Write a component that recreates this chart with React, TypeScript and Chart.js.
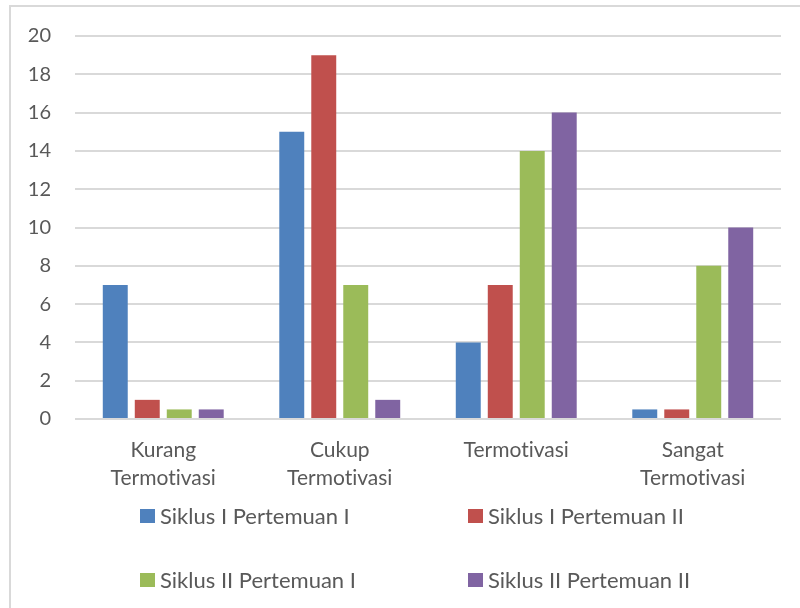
import React, { useEffect, useRef } from "react";
import { Chart, registerables } from "chart.js";

Chart.register(...registerables);

const categories: string[][] = [
  ["Kurang", "Termotivasi"],
  ["Cukup", "Termotivasi"],
  ["Termotivasi"],
  ["Sangat", "Termotivasi"],
];
const seriesNames = [
  "Siklus I Pertemuan I",
  "Siklus I Pertemuan II",
  "Siklus II Pertemuan I",
  "Siklus II Pertemuan II",
];
const siklus1Pertemuan1 = [7, 15, 4, 0.5];
const siklus1Pertemuan2 = [1, 19, 7, 0.5];
const siklus2Pertemuan1 = [0.5, 7, 14, 8];
const siklus2Pertemuan2 = [0.5, 1, 16, 10];
const seriesColors = ["#4F81BD", "#C0504D", "#9BBB59", "#8064A2"];
const yMin = 0;
const yMax = 20;
const yStep = 2;

const FONT = "Lato";
const TEXT_COLOR = "#595959";
const GRID_COLOR = "#d9d9d9";

const frameAndLegend = {
  id: "frameAndLegend",
  beforeDraw(chart: any) {
    const ctx = chart.ctx;
    try {
      ctx.textRendering = "optimizeSpeed";
    } catch (e) {}
  },
  afterDraw(chart: any) {
    const ctx = chart.ctx;
    ctx.save();
    try {
      ctx.textRendering = "optimizeSpeed";
    } catch (e) {}
    // outer frame (top and left edges visible)
    ctx.strokeStyle = GRID_COLOR;
    ctx.lineWidth = 2;
    ctx.strokeRect(10, 6, 820, 640);
    // legend
    const cols = [140, 468];
    const rows = [516, 580];
    ctx.font = `22px ${FONT}`;
    ctx.textBaseline = "middle";
    ctx.textAlign = "left";
    chart.data.datasets.forEach((ds: any, i: number) => {
      const x = cols[i % 2];
      const y = rows[Math.floor(i / 2)];
      ctx.fillStyle = ds.backgroundColor;
      ctx.fillRect(x, y - 7, 15, 14);
      ctx.fillStyle = TEXT_COLOR;
      ctx.fillText(ds.label, x + 20, y + 1);
    });
    ctx.restore();
  },
};

export default function App() {
  const canvasRef = useRef<HTMLCanvasElement | null>(null);

  useEffect(() => {
    let chart: Chart | null = null;
    let cancelled = false;
    const make = () => {
      if (cancelled || !canvasRef.current) return;
      const values = [siklus1Pertemuan1, siklus1Pertemuan2, siklus2Pertemuan1, siklus2Pertemuan2];
      chart = new Chart(canvasRef.current, {
        type: "bar",
        data: {
          labels: categories as any,
          datasets: values.map((v, i) => ({
            label: seriesNames[i],
            data: v,
            backgroundColor: seriesColors[i],
            borderWidth: 0,
            categoryPercentage: 0.725,
            barPercentage: 0.78,
          })),
        },
        options: {
          responsive: false,
          animation: false,
          devicePixelRatio: 1,
          layout: { padding: { left: 0, right: 19, top: 35, bottom: 0 } },
          plugins: {
            legend: { display: false },
            tooltip: { enabled: false },
            title: { display: false },
          },
          scales: {
            x: {
              grid: { display: false, drawTicks: false },
              border: { display: false },
              ticks: {
                padding: 18,
                color: TEXT_COLOR,
                font: { family: FONT, size: 21, lineHeight: 1.3 },
                maxRotation: 0,
                autoSkip: false,
              },
              afterFit: (s: any) => {
                s.height = 189;
              },
            },
            y: {
              min: yMin,
              max: yMax,
              grid: { color: GRID_COLOR, lineWidth: 2, drawTicks: false },
              border: { display: false },
              ticks: {
                stepSize: yStep,
                padding: 24,
                color: TEXT_COLOR,
                font: { family: FONT, size: 20 },
              },
              afterFit: (s: any) => {
                s.width = 75;
              },
            },
          },
        },
        plugins: [frameAndLegend],
      });
    };
    const fonts = (document as any).fonts;
    if (fonts && fonts.load) {
      fonts.load(`20px ${FONT}`).then(make, make);
    } else {
      make();
    }
    return () => {
      cancelled = true;
      if (chart) chart.destroy();
    };
  }, []);

  return (
    <div style={{ position: "absolute", left: 0, top: 0, width: 800, height: 608, background: "#fff" }}>
      <canvas ref={canvasRef} width={800} height={608} style={{ display: "block" }} />
    </div>
  );
}
